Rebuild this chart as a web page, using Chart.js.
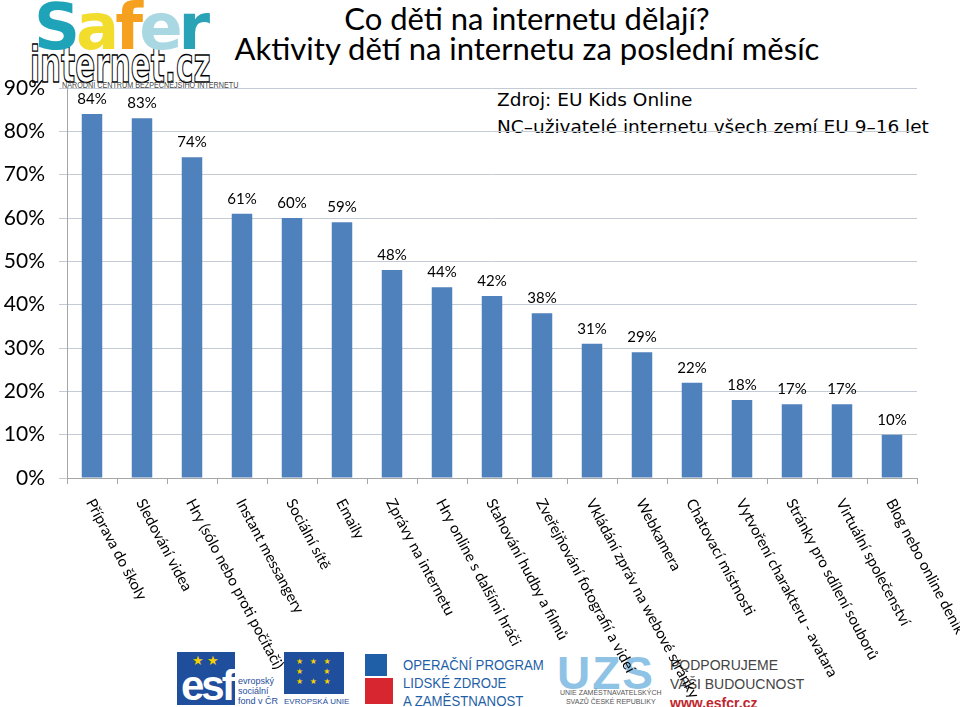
<!DOCTYPE html>
<html>
<head>
<meta charset="utf-8">
<script src="https://cdn.jsdelivr.net/npm/chart.js@4"></script>
<style>
  html, body { margin:0; padding:0; background:#fff; }
  #page { position:relative; width:960px; height:707px; overflow:hidden; font-family:Lato, sans-serif; }
  #chartBox { position:absolute; left:0; top:0; width:960px; height:707px; z-index:2; }
  .txt { position:absolute; white-space:nowrap; color:#000; z-index:1; }
  .title { font-family:Lato, sans-serif; font-size:31px; width:800px; left:127px; text-align:center; }
  .note { font-family:"DejaVu Sans", sans-serif; font-size:18.5px; }
  .safer { left:34px; top:-10px; font-family:"DejaVu Sans", sans-serif; font-weight:bold; font-size:64px; letter-spacing:-4px; }
  .inet { left:30px; top:35px; font-family:"DejaVu Sans", sans-serif; font-weight:bold; font-size:44px; color:#fff; -webkit-text-stroke:1.3px #000; transform:scale(0.67,1.15); transform-origin:0 0; }
  .ncbi { left:62px; top:80px; font-family:"Liberation Sans", sans-serif; font-size:9px; color:#444; transform:scaleX(0.8); transform-origin:0 0; }
  .box { position:absolute; z-index:1; }
  .blue { color:#1f5fa8; font-family:"Liberation Sans", sans-serif; font-size:15px; line-height:18px; transform:scaleX(0.88); transform-origin:0 0; }
</style>
</head>
<body>
<div id="page">
  <div class="txt inet">internet.cz</div>
  <div class="txt safer"><span style="color:#1fa3b8">S</span><span style="color:#f2dc2c">a</span><span style="color:#f5a11f">f</span><span style="color:#a9d8e3">e</span><span style="color:#2aa3b7">r</span></div>
  <div class="txt ncbi">NÁRODNÍ CENTRUM BEZPEČNĚJŠÍHO INTERNETU</div>

  <div class="txt title" style="top:-1px;">Co děti na internetu dělají?</div>
  <div class="txt title" style="top:29px;">Aktivity dětí na internetu za poslední měsíc</div>
  <div class="txt note" style="left:497px; top:89px;">Zdroj: EU Kids Online</div>
  <div class="txt note" style="left:497px; top:116px;">NC–uživatelé internetu všech zemí EU 9–16 let</div>

  <!-- bottom logos, rough stand-ins -->
  <div class="box" style="left:177px; top:652px; width:58px; height:53px; background:#1f4e9c;"></div>
  <div class="txt" style="left:181px; top:662px; font:bold 42px 'Liberation Sans',sans-serif; color:#fff; letter-spacing:-3px;">esf</div>
  <div class="txt" style="left:192px; top:652px; font-size:13px; color:#f5d000;">★ ★</div>
  <div class="txt" style="left:238px; top:676px; font:9px/10px 'Liberation Sans',sans-serif; color:#1f4e9c;">evropský<br>sociální<br>fond v ČR</div>
  <div class="box" style="left:284px; top:652px; width:60px; height:42px; background:#1f4e9c;"></div>
  <div class="txt" style="left:296px; top:657px; font:8px/10px 'DejaVu Sans',sans-serif; color:#f5d000; letter-spacing:2px;">★ ★ ★<br>★&nbsp;&nbsp;&nbsp;&nbsp;★<br>★ ★ ★</div>
  <div class="txt" style="left:284px; top:697px; font:8px 'Liberation Sans',sans-serif; color:#1f4e9c;">EVROPSKÁ UNIE</div>
  <div class="box" style="left:365px; top:654px; width:22px; height:22px; background:#1f5fa8;"></div>
  <div class="box" style="left:365px; top:678px; width:28px; height:26px; background:#d7262f;"></div>
  <div class="txt blue" style="left:403px; top:656px;">OPERAČNÍ PROGRAM<br>LIDSKÉ ZDROJE<br>A ZAMĚSTNANOST</div>
  <div class="txt" style="left:557px; top:646px; font:bold 46px 'Liberation Sans',sans-serif; color:#8ec3e6; letter-spacing:2px;">UZS</div>
  <div class="txt" style="left:560px; top:688px; font:7px/9px 'Liberation Sans',sans-serif; color:#555; text-align:center;">UNIE ZAMĚSTNAVATELSKÝCH<br>SVAZŮ ČESKÉ REPUBLIKY</div>
  <div class="txt" style="left:670px; top:656px; font:14px/19px 'Liberation Sans',sans-serif; color:#444;">PODPORUJEME<br>VAŠI BUDOUCNOST<br><span style="color:#c0262d; font-weight:bold;">www.esfcr.cz</span></div>

  <div id="chartBox"><canvas id="activityChart"></canvas></div>
</div>

<script>
const categories = [
  "Příprava do školy",
  "Sledování videa",
  "Hry (sólo nebo proti počítači)",
  "Instant messangery",
  "Sociální sítě",
  "Emaily",
  "Zprávy na internetu",
  "Hry online s dalšími hráči",
  "Stahování hudby a filmů",
  "Zveřejňování fotografií a videí",
  "Vkládání zpráv na webové stránky",
  "Webkamera",
  "Chatovací místnosti",
  "Vytvoření charakteru - avatara",
  "Stránky pro sdílení souborů",
  "Virtuální společenství",
  "Blog nebo online deník"
];

const percentValues = [84,83,74,61,60,59,48,44,42,38,31,29,22,18,17,17,10];

const yTickValues = [0,10,20,30,40,50,60,70,80,90];

// labels above bars + rotated category names under the axis
const barLabelsPlugin = {
  id:"barLabels",
  afterDatasetsDraw(chart){
    const ctx = chart.ctx;
    const meta = chart.getDatasetMeta(0);
    const xScale = chart.scales.x;

    ctx.save();
    ctx.fillStyle = "#000";
    ctx.font = "15px Lato";
    ctx.textAlign = "center";
    ctx.textBaseline = "alphabetic";
    meta.data.forEach((bar,index) => {
      ctx.fillText(percentValues[index] + "%", bar.x, bar.y - 10);
    });
    ctx.restore();

    ctx.save();
    ctx.fillStyle = "#000";
    ctx.font = "15px Lato";
    ctx.textAlign = "left";
    ctx.textBaseline = "middle";
    categories.forEach((name,index) => {
      const x = xScale.getPixelForValue(index);
      ctx.save();
      ctx.translate(x - 2, 500);
      ctx.rotate(62 * Math.PI / 180);
      ctx.fillText(name, 0, 0);
      ctx.restore();
    });
    ctx.restore();
  }
};

function renderChart(){
  const ctx = document.getElementById("activityChart").getContext("2d");

  new Chart(ctx,{
    type:"bar",
    data:{
      labels:categories,
      datasets:[{
        data:percentValues,
        backgroundColor:"#4f81bd",
        barPercentage:0.41,
        categoryPercentage:1
      }]
    },
    options:{
      responsive:true,
      maintainAspectRatio:false,
      animation:false,
      layout:{ padding:{ top:88, right:43, left:0, bottom:0 } },
      plugins:{
        legend:{ display:false },
        tooltip:{ enabled:false }
      },
      scales:{
        x:{
          offset:true,
          grid:{ offset:true, drawOnChartArea:false, drawTicks:true, tickLength:6, color:"#a6a6a6" },
          border:{ color:"#a6a6a6" },
          ticks:{ display:false },
          afterFit(scale){ scale.height = 229; }
        },
        y:{
          min:0,
          max:90,
          afterBuildTicks(scale){ scale.ticks = yTickValues.map(v => ({ value:v })); },
          ticks:{
            color:"#000",
            padding:14,
            font:{ family:"Lato", size:21 },
            callback:v => v + "%"
          },
          grid:{ color:"#c3cbd5", tickLength:8 },
          border:{ color:"#a6a6a6" },
          afterFit(scale){ scale.width = 67; }
        }
      }
    },
    plugins:[barLabelsPlugin]
  });
}

document.addEventListener("DOMContentLoaded",renderChart);
</script>
</body>
</html>
